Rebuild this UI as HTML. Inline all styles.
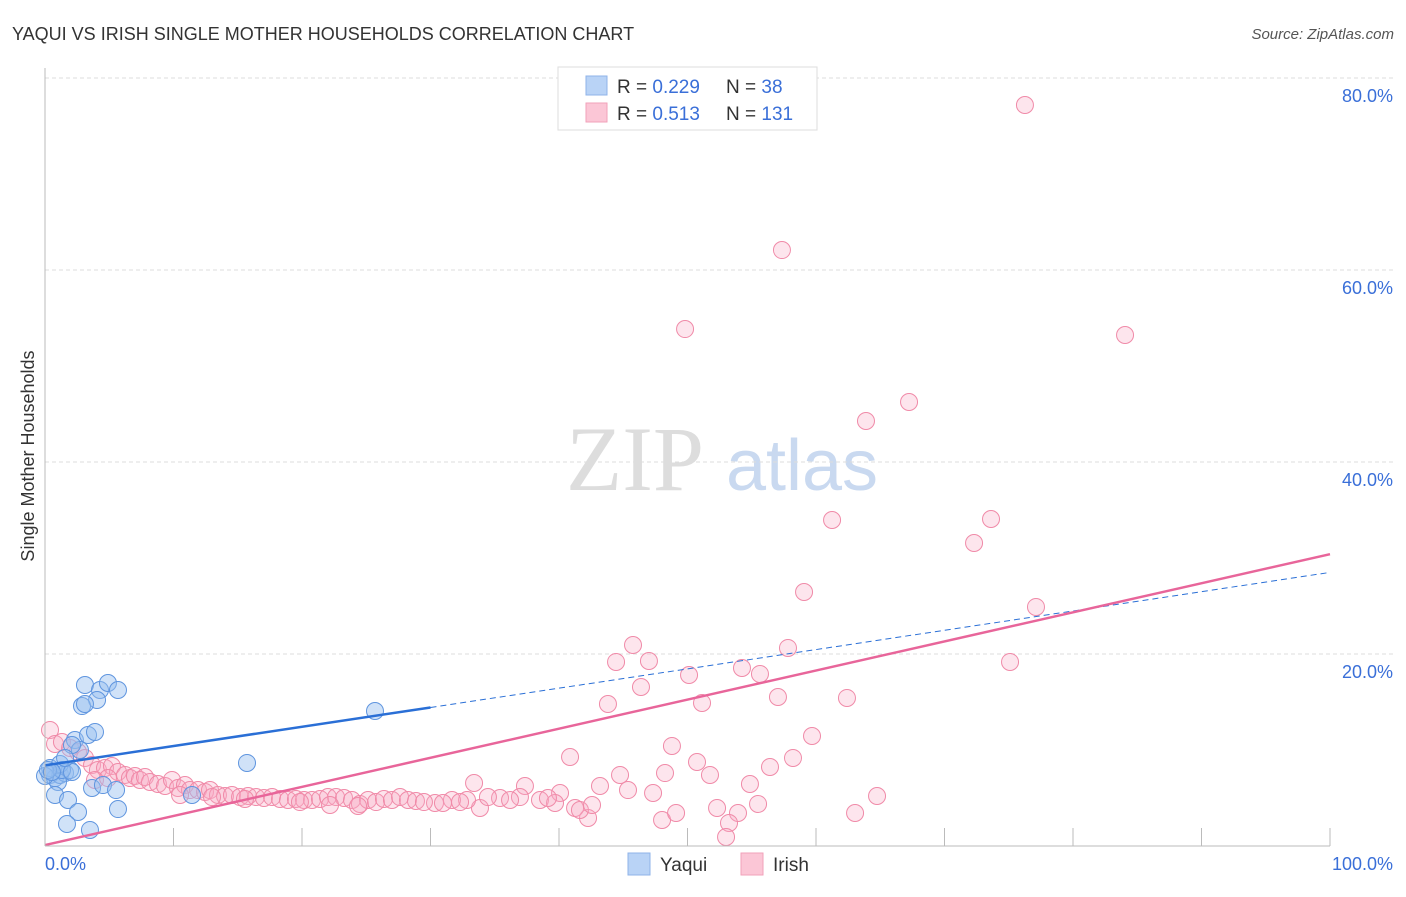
<!DOCTYPE html>
<html><head><meta charset="utf-8"><style>
body{margin:0;background:#fff;font-family:"Liberation Sans",sans-serif;}
</style></head><body>
<svg id="chart" width="1406" height="892" xmlns="http://www.w3.org/2000/svg">
<text x="12" y="40" font-size="18" fill="#333">YAQUI VS IRISH SINGLE MOTHER HOUSEHOLDS CORRELATION CHART</text>
<text x="1394" y="39" font-size="15" fill="#555" font-style="italic" text-anchor="end">Source: ZipAtlas.com</text>
<text x="34" y="456" font-size="18" fill="#333" text-anchor="middle" transform="rotate(-90 34 456)">Single Mother Households</text>
<g>
<text x="635" y="490" font-size="92" fill="#ddd" font-family="Liberation Serif" text-anchor="middle">ZIP</text>
<text x="802" y="490" font-size="72" fill="#c9d9f0" text-anchor="middle">atlas</text>
</g>
<g id="grid"></g><g id="marks"></g><g id="lines"></g>
<line x1="45" y1="68" x2="45" y2="846" stroke="#bbb"/>
<line x1="45" y1="846" x2="1330" y2="846" stroke="#bbb"/>
<text x="45" y="870" font-size="18" fill="#3a6fd8">0.0%</text>
<text x="1393" y="870" font-size="18" fill="#3a6fd8" text-anchor="end">100.0%</text>
<g>
<rect x="558" y="67" width="259" height="63" fill="#fff" stroke="#ddd"/>
<rect x="586" y="76" width="21" height="19" fill="#b9d3f6" stroke="#8fb3e8"/>
<rect x="586" y="103" width="21" height="19" fill="#fbc6d6" stroke="#f2a1ba"/>
<text x="617" y="93" font-size="19" fill="#333">R = <tspan fill="#3a6fd8">0.229</tspan></text>
<text x="726" y="93" font-size="19" fill="#333">N = <tspan fill="#3a6fd8"> 38</tspan></text>
<text x="617" y="120" font-size="19" fill="#333">R = <tspan fill="#3a6fd8"> 0.513</tspan></text>
<text x="726" y="120" font-size="19" fill="#333">N = <tspan fill="#3a6fd8">131</tspan></text>
</g>
<g>
<rect x="628" y="853" width="22" height="22" fill="#b9d3f6" stroke="#8fb3e8"/>
<text x="660" y="871" font-size="19" fill="#333">Yaqui</text>
<rect x="741" y="853" width="22" height="22" fill="#fbc6d6" stroke="#f2a1ba"/>
<text x="773" y="871" font-size="19" fill="#333">Irish</text>
</g>
</svg>
<script>
const yTicks=[20,40,60,80];
const yTickLabels=["20.0%","40.0%","60.0%","80.0%"];
const xTicks=[10,20,30,40,50,60,70,80,90,100];
const yaquiPx=[[50,775],[55,778],[60,775],[65,773],[50,768],[58,782],[70,770],[45,776],[55,795],[68,800],[78,812],[90,830],[67,824],[60,764],[75,740],[88,735],[95,732],[80,750],[85,685],[100,690],[108,683],[118,690],[97,700],[82,706],[85,704],[92,788],[103,785],[116,790],[118,809],[192,795],[247,763],[375,711],[72,745],[62,770],[48,770],[52,772],[72,772],[65,758]];
const irishPx=[[1025,105],[782,250],[685,329],[1125,335],[909,402],[866,421],[832,520],[991,519],[974,543],[804,592],[1036,607],[633,645],[616,662],[649,661],[788,648],[742,668],[1010,662],[689,675],[760,674],[641,687],[702,703],[778,697],[608,704],[847,698],[812,736],[672,746],[570,757],[697,762],[793,758],[665,773],[710,775],[770,767],[750,784],[620,775],[600,786],[628,790],[653,793],[525,786],[474,783],[560,793],[758,804],[717,808],[738,813],[662,820],[676,813],[588,818],[855,813],[877,796],[729,823],[726,837],[520,797],[540,800],[500,798],[480,808],[467,800],[452,800],[435,803],[555,803],[575,808],[580,810],[592,805],[50,730],[55,744],[62,742],[70,748],[78,752],[85,758],[92,765],[98,770],[105,768],[112,766],[118,772],[125,775],[130,778],[135,776],[140,780],[145,777],[150,782],[158,784],[165,786],[172,780],[178,788],[185,785],[190,790],[198,790],[205,792],[210,790],[218,795],[225,796],[232,795],[240,797],[248,796],[256,797],[264,798],[272,797],[280,799],[288,800],[296,799],[304,800],[312,800],[320,799],[328,797],[336,797],[344,798],[352,800],[360,804],[368,800],[376,802],[384,799],[392,800],[400,797],[408,800],[416,801],[424,802],[95,780],[108,778],[180,795],[212,797],[245,799],[330,805],[358,806],[300,802],[443,803],[460,802],[488,797],[510,800],[548,798]];
// convert the read pixel estimates into data values (% units)
const yaquiX=yaquiPx.map(p=>+((p[0]-45)/12.85).toFixed(2));
const yaquiY=yaquiPx.map(p=>+((846-p[1])/9.6).toFixed(2));
const irishX=irishPx.map(p=>+((p[0]-45)/12.85).toFixed(2));
const irishY=irishPx.map(p=>+((846-p[1])/9.6).toFixed(2));
const yaquiTrend=[8.4,28.5];
const yaquiSolidEnd=30;
const irishTrend=[0.1,30.4];

const NS="http://www.w3.org/2000/svg";
const sx=v=>45+v*12.85, sy=v=>846-v*9.6;
function mk(tag,attrs,parent){const e=document.createElementNS(NS,tag);for(const k in attrs)e.setAttribute(k,attrs[k]);parent.appendChild(e);return e;}
const grid=document.getElementById('grid'),marks=document.getElementById('marks'),lines=document.getElementById('lines');
yTicks.forEach((t,i)=>{
 const l=mk('line',{x1:45,x2:1393,y1:sy(t),y2:sy(t),stroke:'#ddd','stroke-dasharray':'4 3'},grid);
 
 
 const tx=mk('text',{x:1393,y:sy(t)+24,'font-size':18,fill:'#3a6fd8','text-anchor':'end'},grid);
 tx.textContent=yTickLabels[i];
 
 
});
xTicks.forEach(t=>{
 const l=mk('line',{x1:sx(t),x2:sx(t),y1:828,y2:846,stroke:'#bbb'},grid);
 
 
});
irishX.forEach((x,i)=>{
 const c=mk('circle',{cx:sx(x),cy:sy(irishY[i]),r:8.5,fill:'rgba(248,170,195,0.3)',stroke:'#f08aa8','stroke-width':1},marks);
 
 
});
yaquiX.forEach((x,i)=>{
 const c=mk('circle',{cx:sx(x),cy:sy(yaquiY[i]),r:8.5,fill:'rgba(150,190,240,0.45)',stroke:'#5f95df','stroke-width':1},marks);
 
 
});
const by=x=>yaquiTrend[0]+(yaquiTrend[1]-yaquiTrend[0])*x/100;
let l1=mk('line',{x1:sx(0),y1:sy(by(0)),x2:sx(yaquiSolidEnd),y2:sy(by(yaquiSolidEnd)),stroke:'#2a6fd6','stroke-width':2.5},lines);


let l2=mk('line',{x1:sx(yaquiSolidEnd),y1:sy(by(yaquiSolidEnd)),x2:sx(100),y2:sy(by(100)),stroke:'#2a6fd6','stroke-width':1,'stroke-dasharray':'6 4'},lines);


let l3=mk('line',{x1:sx(0),y1:sy(irishTrend[0]),x2:sx(100),y2:sy(irishTrend[1]),stroke:'#e8659a','stroke-width':2.5},lines);


</script>
</body></html>
